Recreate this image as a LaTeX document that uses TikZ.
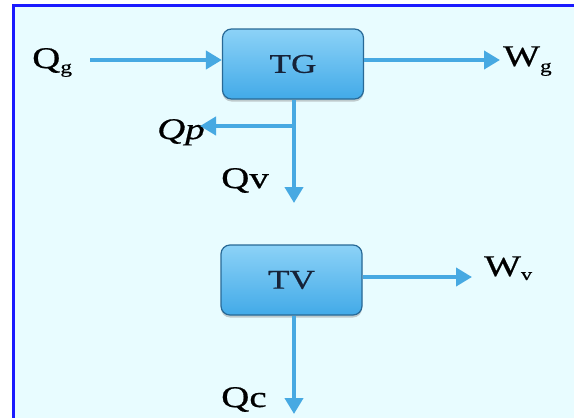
\documentclass[tikz,border=0pt]{standalone}
\usepackage{fontspec}
\newfontfamily\lblfont{Liberation Serif}[FakeStretch=1.3, FakeBold=0.6]
\usetikzlibrary{arrows.meta,shadows}
\definecolor{panel}{RGB}{232,252,255}
\definecolor{frameblue}{RGB}{26,26,255}
\definecolor{flowblue}{RGB}{71,169,226}
\definecolor{boxtop}{RGB}{140,210,247}
\definecolor{boxbot}{RGB}{66,170,232}
\definecolor{boxline}{RGB}{40,105,150}
\definecolor{inkblue}{RGB}{22,34,56}

\begin{document}
\begin{tikzpicture}[x=1pt, y=-1pt,
    flow/.style={draw=flowblue, line width=4.5pt, -{Triangle[length=16pt, width=18pt]}},
    unit/.style={rounded corners=9pt, draw=boxline, line width=1.2pt,
        top color=boxtop, bottom color=boxbot, minimum width=141pt, minimum height=70pt,
        drop shadow={shadow xshift=0pt, shadow yshift=-2.5pt, opacity=.4},
        font=\lblfont\fontsize{27}{27}\selectfont, text=inkblue},
    lbl/.style={inner sep=0pt, font=\lblfont\fontsize{30}{30}\selectfont}]
    \useasboundingbox (0,0) rectangle (574,418);
    \fill[white] (0,0) rectangle (574,418);
    \fill[panel] (13.5,5.5) rectangle (574,418);
    \draw[frameblue, line width=3pt] (13.5,418) -- (13.5,5.5) -- (574,5.5);

    \node[unit] (tg) at (293,64) {TG};
    \node[unit] (tv) at (291.5,280) {TV};

    \node[lbl, anchor=base west] (qg) at (32,68) {Q\raisebox{-5pt}{\fontsize{18}{18}\selectfont g}};
    \node[lbl, anchor=base west] (wg) at (503,66) {W\raisebox{-6pt}{\fontsize{18}{18}\selectfont g}};
    \node[lbl, anchor=base east] (qp) at (205,139) {\itshape Qp};
    \node[lbl, anchor=base west] (qv) at (221,188) {Qv};
    \node[lbl, anchor=base west] (wv) at (484,276) {W\raisebox{-4pt}{\fontsize{17}{17}\selectfont v}};
    \node[lbl, anchor=base west] (qc) at (221,407) {Qc};

    \coordinate (qgout) at (90,60);
    \coordinate (wgin) at (500,60);
    \coordinate (qptip) at (200,126);
    \coordinate (qvtip) at (294,203);
    \coordinate (wvin) at (472,277);
    \coordinate (qctip) at (294,414);

    \draw[flow] (qgout) -- (qgout -| tg.west);
    \draw[flow] (tg.east |- wgin) -- (wgin);
    \draw[flow] (tg.south -| qvtip) -- (qvtip);
    \draw[flow] (qptip -| qvtip) -- (qptip);
    \draw[flow] (tv.east |- wvin) -- (wvin);
    \draw[flow] (tv.south -| qctip) -- (qctip);
\end{tikzpicture}
\end{document}
